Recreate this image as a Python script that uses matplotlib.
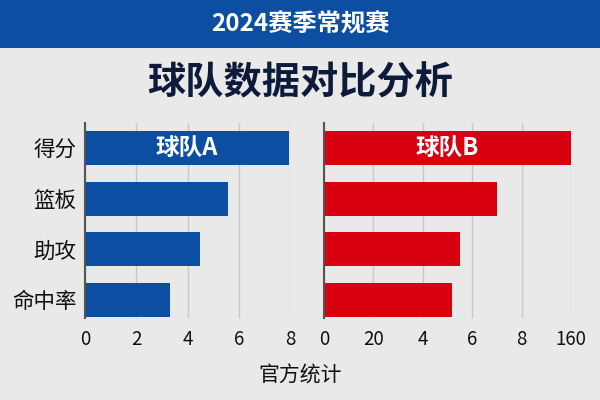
import matplotlib.pyplot as plt
import numpy as np

plt.rcParams['font.family'] = ['Noto Sans CJK SC', 'DejaVu Sans']

categories = ['得分', '篮板', '助攻', '命中率']
team_a = [7.95, 5.57, 4.47, 3.33]
team_b = [10.0, 7.02, 5.52, 5.19]
b_ticks = [0, 2, 4, 6, 8, 10]
b_tick_labels = ['0', '20', '4', '6', '8', '160']
a_ticks = [0, 2, 4, 6, 8]

blue = '#0b4ea2'
red = '#d9000f'
bg = '#e9e9e9'
navy = '#0d1a3a'

fig = plt.figure(figsize=(6, 4), dpi=100)
fig.patch.set_facecolor(bg)

# header band
band = fig.add_axes([0, 0.88, 1, 0.12])
band.set_facecolor(blue)
band.set_xticks([]); band.set_yticks([])
for s in band.spines.values():
    s.set_visible(False)
fig.text(0.5, 0.94, '2024赛季常规赛', color='white', fontsize=17.5,
         fontweight='bold', ha='center', va='center')
fig.text(0.5, 0.792, '球队数据对比分析', color=navy, fontsize=27.5,
         fontweight='heavy', ha='center', va='center')

y = np.arange(len(categories))


def style(ax, ticks):
    ax.set_facecolor('none')
    ax.set_ylim(3.36, -0.5)
    ax.set_xticks(ticks)
    ax.grid(axis='x', color='#c8c8cc', linewidth=1)
    ax.set_axisbelow(True)
    for s in ['top', 'right', 'bottom']:
        ax.spines[s].set_visible(False)
    ax.spines['left'].set_color('#555555')
    ax.spines['left'].set_linewidth(1.5)
    ax.tick_params(axis='both', length=0, labelsize=13.5, colors='#111111', pad=8)


ax1 = fig.add_axes([0.1417, 0.205, 0.3416, 0.4875])
ax1.barh(y, team_a, height=0.67, color=blue)
ax1.set_xlim(0, 8)
style(ax1, a_ticks)
ax1.set_yticks(y)
ax1.set_yticklabels(categories, fontsize=15.5, fontweight='medium')
ax1.tick_params(axis='y', pad=6)
ax1.text(team_a[0] / 2, 0, '球队A', color='white', fontsize=17,
         fontweight='bold', ha='center', va='center')

ax2 = fig.add_axes([0.54, 0.205, 0.4117, 0.4875])
ax2.barh(y, team_b, height=0.67, color=red)
ax2.set_xlim(0, 10)
style(ax2, b_ticks)
ax2.set_xticklabels(b_tick_labels)
ax2.set_yticks([])
ax2.text(team_b[0] / 2, 0, '球队B', color='white', fontsize=17,
         fontweight='bold', ha='center', va='center')

fig.text(0.5, 0.062, '官方统计', color='#111111', fontsize=15,
         fontweight='medium', ha='center', va='center')

fig.savefig('out.png', dpi=100, facecolor=bg)
